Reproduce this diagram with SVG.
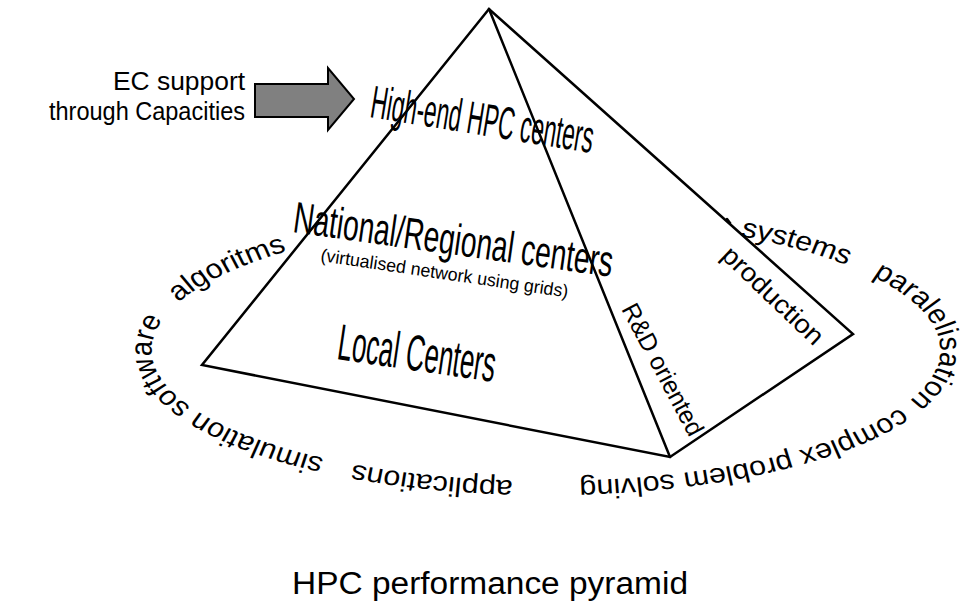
<svg xmlns="http://www.w3.org/2000/svg" width="969" height="604" viewBox="0 0 969 604">
  <style>
    .t { font-family: "Liberation Sans", Arial, Helvetica, sans-serif; fill: #000; }
    .edge { fill: none; stroke: #000; stroke-width: 2.5; stroke-linejoin: miter; stroke-linecap: round; }
    .ring { font-size: 27px; }
  </style>
  <defs>
    <!-- baseline arcs of the elliptical ring of labels (unstretched coordinates) -->
    <path id="arcApplications" d="M454.0,480.5 A349,131 0 0 1 134.2,350"/>
    <path id="arcSimulation" d="M283.0,457.3 A349,131 0 0 1 308.7,236.6"/>
    <path id="arcAlgoritms" d="M150.5,310.4 A349,131 0 0 1 543.8,221.0"/>
    <path id="arcSystems" d="M655.0,236.0 A349,131 0 0 1 826.9,327.3"/>
    <path id="arcParalelisation" d="M771.9,276.4 A349,131 0 0 1 657.7,463.4"/>
    <path id="arcComplex" d="M796.6,407.6 A349,131 0 0 1 422.6,479.0"/>
  </defs>

  <rect width="969" height="604" fill="#fff"/>

  <!-- ring of topic labels around the pyramid -->
  <g id="ring" class="t ring" transform="scale(1.13,1)">
    <text><textPath href="#arcApplications">applications</textPath></text>
    <text><textPath href="#arcSimulation" startOffset="-4">simulation software</textPath></text>
    <text><textPath href="#arcAlgoritms" startOffset="11">algoritms</textPath></text>
    <text><textPath href="#arcSystems">systems</textPath></text>
    <text><textPath href="#arcParalelisation">paralelisation</textPath></text>
    <text><textPath href="#arcComplex">complex problem solving</textPath></text>
  </g>

  <!-- pyramid -->
  <g id="pyramid">
    <path class="edge" d="M489,9 L202,365 L670,457 L853,334 Z"/>
    <path class="edge" d="M489,9 L670,457"/>
    <path class="edge" d="M727,219 L730,223"/>
  </g>

  <!-- tier labels -->
  <g id="tier-high-end">
    <text class="t" font-size="46" textLength="225" lengthAdjust="spacingAndGlyphs" transform="translate(369,117) rotate(9.2)">High-end HPC centers</text>
  </g>
  <g id="tier-national">
    <text class="t" font-size="44" textLength="322" lengthAdjust="spacingAndGlyphs" transform="translate(292,232) rotate(8)">National/Regional centers</text>
    <text class="t" font-size="18" textLength="250" lengthAdjust="spacingAndGlyphs" transform="translate(320,261) rotate(8.4)">(virtualised network using grids)</text>
  </g>
  <g id="tier-local">
    <text class="t" font-size="51" textLength="159" lengthAdjust="spacingAndGlyphs" transform="translate(336,359) rotate(8.3)">Local Centers</text>
  </g>
  <g id="face-rd">
    <text class="t" font-size="25" textLength="146" lengthAdjust="spacingAndGlyphs" transform="translate(621,309) rotate(62)">R&amp;D oriented</text>
  </g>
  <g id="face-production">
    <text class="t" font-size="26" textLength="130" lengthAdjust="spacingAndGlyphs" transform="translate(720,257) rotate(43.7)">production</text>
  </g>

  <!-- EC support arrow -->
  <g id="ec-support">
    <text class="t" font-size="25" text-anchor="end" x="245" y="90" textLength="132" lengthAdjust="spacingAndGlyphs">EC support</text>
    <text class="t" font-size="25" text-anchor="end" x="245" y="120" textLength="196" lengthAdjust="spacingAndGlyphs">through Capacities</text>
    <polygon points="255,84 328,84 328,68 354,99 328,130 328,117 255,117" fill="#808080" stroke="#000" stroke-width="2"/>
  </g>

  <!-- caption -->
  <g id="caption">
    <text class="t" font-size="31" text-anchor="middle" x="490" y="594" textLength="396" lengthAdjust="spacingAndGlyphs">HPC performance pyramid</text>
  </g>
</svg>
